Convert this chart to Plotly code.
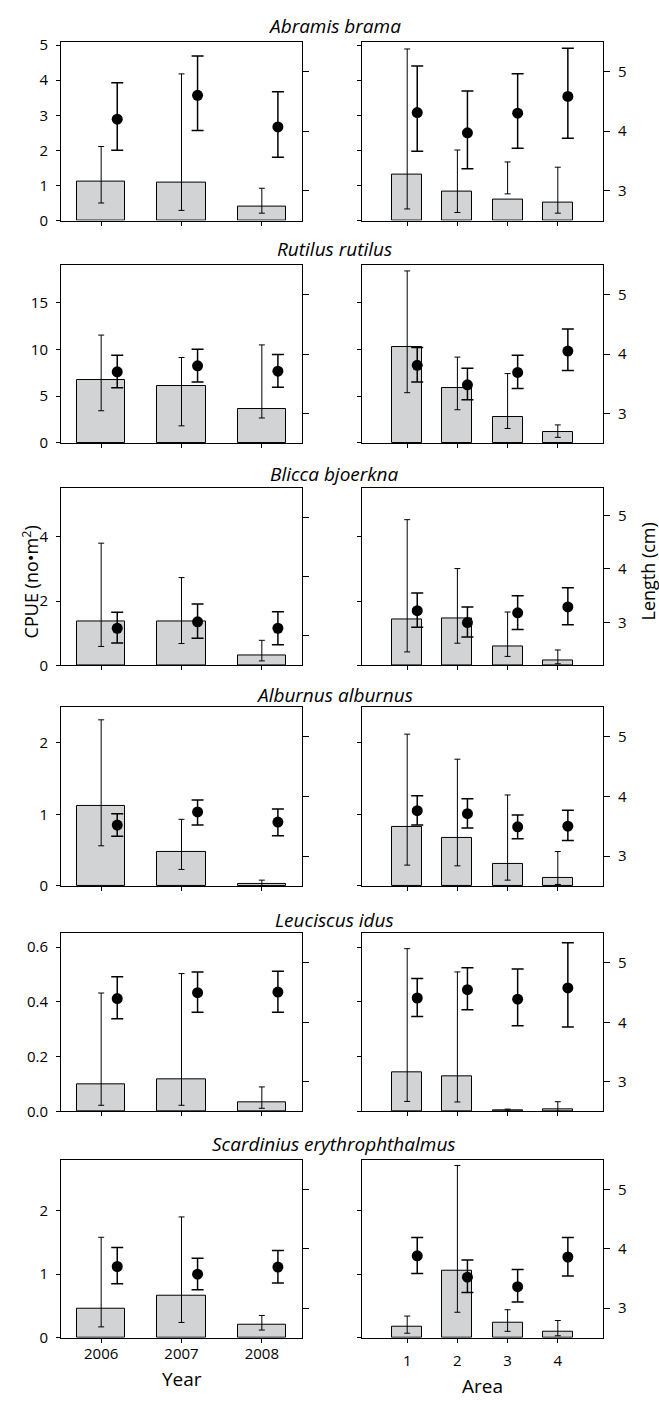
import plotly.graph_objects as go

W, H = 659, 1406

species = ["Abramis brama", "Rutilus rutilus", "Blicca bjoerkna",
           "Alburnus alburnus", "Leuciscus idus", "Scardinius erythrophthalmus"]
years = [2006, 2007, 2008]
areas = [1, 2, 3, 4]

# CPUE (no per m2) by year: mean, upper and lower limits
year_cpue = [
    [1.11, 1.08, 0.40],
    [6.71, 6.08, 3.62],
    [1.37, 1.37, 0.32],
    [1.11, 0.48, 0.03],
    [0.097, 0.115, 0.032],
    [0.45, 0.66, 0.21],
]
year_cpue_hi = [
    [2.11, 4.18, 0.92],
    [11.52, 9.13, 10.47],
    [3.80, 2.73, 0.78],
    [2.32, 0.93, 0.08],
    [0.432, 0.503, 0.089],
    [1.58, 1.90, 0.35],
]
year_cpue_lo = [
    [0.50, 0.29, 0.21],
    [3.44, 1.83, 2.67],
    [0.59, 0.68, 0.14],
    [0.56, 0.23, 0.005],
    [0.022, 0.022, 0.011],
    [0.17, 0.24, 0.12],
]
# Length (cm) by year
year_len = [
    [4.20, 4.60, 4.07],
    [3.70, 3.80, 3.71],
    [3.13, 3.24, 3.13],
    [3.52, 3.74, 3.57],
    [4.40, 4.50, 4.51],
    [3.70, 3.57, 3.69],
]
year_len_hi = [
    [4.81, 5.26, 4.66],
    [3.98, 4.08, 3.99],
    [3.40, 3.54, 3.41],
    [3.71, 3.94, 3.79],
    [4.77, 4.85, 4.86],
    [4.02, 3.84, 3.97],
]
year_len_lo = [
    [3.68, 4.01, 3.56],
    [3.43, 3.53, 3.44],
    [2.88, 2.96, 2.85],
    [3.33, 3.52, 3.34],
    [4.06, 4.17, 4.17],
    [3.41, 3.31, 3.42],
]
# CPUE by area
area_cpue = [
    [1.30, 0.83, 0.60, 0.50],
    [10.26, 5.87, 2.81, 1.12],
    [1.42, 1.47, 0.59, 0.16],
    [0.83, 0.67, 0.31, 0.11],
    [0.143, 0.129, 0.004, 0.007],
    [0.18, 1.05, 0.24, 0.09],
]
area_cpue_hi = [
    [4.89, 2.01, 1.67, 1.52],
    [18.37, 9.17, 7.41, 1.93],
    [4.53, 3.01, 1.66, 0.48],
    [2.12, 1.77, 1.27, 0.48],
    [0.594, 0.509, 0.008, 0.035],
    [0.34, 2.71, 0.44, 0.27],
]
area_cpue_lo = [
    [0.33, 0.23, 0.76, 0.21],
    [5.37, 3.55, 1.55, 0.60],
    [0.42, 0.69, 0.28, 0.05],
    [0.29, 0.28, 0.08, 0.02],
    [0.036, 0.034, 0.001, 0.0],
    [0.07, 0.40, 0.10, 0.03],
]
# Length by area
area_len = [
    [4.31, 3.97, 4.30, 4.58],
    [3.81, 3.48, 3.69, 4.05],
    [3.22, 3.00, 3.18, 3.29],
    [3.76, 3.71, 3.49, 3.50],
    [4.41, 4.55, 4.39, 4.58],
    [3.88, 3.52, 3.36, 3.86],
]
area_len_hi = [
    [5.09, 4.67, 4.96, 5.39],
    [4.11, 3.76, 3.98, 4.42],
    [3.55, 3.29, 3.50, 3.65],
    [4.01, 3.96, 3.69, 3.77],
    [4.74, 4.92, 4.90, 5.34],
    [4.19, 3.81, 3.65, 4.19],
]
area_len_lo = [
    [3.66, 3.37, 3.71, 3.88],
    [3.53, 3.23, 3.42, 3.72],
    [2.91, 2.73, 2.87, 2.96],
    [3.52, 3.47, 3.29, 3.26],
    [4.10, 4.21, 3.94, 3.92],
    [3.58, 3.26, 3.10, 3.54],
]

# axis settings per row
cpue_max = [5.1, 19, 5.5, 2.5, 0.65, 2.8]
cpue_ticks = [[0, 1, 2, 3, 4, 5], [0, 5, 10, 15], [0, 2, 4], [0, 1, 2],
              [0, 0.2, 0.4, 0.6], [0, 1, 2]]
cpue_fmt = ["", "", "", "", ".1f", ""]
len_range_year = [[2.5, 5.5]] * 6
len_range_area = [[2.5, 5.5], [2.5, 5.5], [2.2, 5.5], [2.5, 5.5], [2.5, 5.5], [2.5, 5.5]]
len_ticks = [3, 4, 5]

# layout geometry (pixels)
col_x = [(61, 302), (362, 603)]
row_y = [(35, 216), (261, 441), (487, 666), (708, 889), (937, 1117), (1166, 1346)]
title_y = [19, 245, 472, 696, 924, 1150]

FONT = "Open Sans"
BAR_FILL = "#d2d3d5"
DOT_OFFSET = 0.2
BAR_W = 0.6

fig = go.Figure()
layout = {}


def key(prefix, n):
    return prefix + ("" if n == 1 else str(n))


for r in range(6):
    for c in range(2):
        p = r * 2 + c
        xn = p + 1
        yc = 2 * p + 1
        yl = 2 * p + 2
        xid, ycid, ylid = key("x", xn), key("y", yc), key("y", yl)
        if c == 0:
            xs = years
            cp, hi, lo = year_cpue[r], year_cpue_hi[r], year_cpue_lo[r]
            ln, lhi, llo = year_len[r], year_len_hi[r], year_len_lo[r]
            xr = [years[0] - 0.5, years[-1] + 0.5]
            lrange = len_range_year[r]
            ticktext = [str(v) for v in years]
        else:
            xs = areas
            cp, hi, lo = area_cpue[r], area_cpue_hi[r], area_cpue_lo[r]
            ln, lhi, llo = area_len[r], area_len_hi[r], area_len_lo[r]
            xr = [areas[0] - 0.9, areas[-1] + 0.9]
            lrange = len_range_area[r]
            ticktext = [str(v) for v in areas]

        fig.add_trace(go.Bar(
            x=xs, y=cp, width=BAR_W, xaxis=xid, yaxis=ycid,
            marker=dict(color=BAR_FILL, line=dict(color="black", width=1)),
            error_y=dict(type="data", symmetric=False,
                         array=[h - v for h, v in zip(hi, cp)],
                         arrayminus=[v - l for v, l in zip(cp, lo)],
                         color="black", thickness=1, width=3),
            showlegend=False, hoverinfo="skip"))
        fig.add_trace(go.Scatter(
            x=[v + DOT_OFFSET for v in xs], y=ln, mode="markers",
            xaxis=xid, yaxis=ylid,
            marker=dict(color="black", size=11, line=dict(width=0)),
            error_y=dict(type="data", symmetric=False,
                         array=[h - v for h, v in zip(lhi, ln)],
                         arrayminus=[v - l for v, l in zip(ln, llo)],
                         color="black", thickness=1.5, width=6),
            showlegend=False, hoverinfo="skip"))

        x0, x1 = col_x[c]
        top, bot = row_y[r]
        ydom = [1 - bot / H, 1 - top / H]
        bottom_row = (r == 5)
        xaxis = dict(
            domain=[x0 / W, x1 / W], anchor=ycid, range=xr,
            tickvals=xs, showticklabels=bottom_row,
            ticks="outside", ticklen=4, tickwidth=1, tickcolor="black",
            showline=True, linecolor="black", linewidth=1, mirror=True,
            showgrid=False, zeroline=False,
            tickfont=dict(family=FONT, size=15, color="black"),
        )
        if bottom_row:
            xaxis["ticktext"] = ticktext
            xaxis["ticklabelstandoff"] = (-2 if c == 0 else 5)
        layout[key("xaxis", xn)] = xaxis
        yaxis_c = dict(
            domain=ydom, anchor=xid, range=[0, cpue_max[r]],
            tickvals=cpue_ticks[r], showticklabels=(c == 0),
            ticks="outside", ticklen=4, tickwidth=1, tickcolor="black",
            showline=True, linecolor="black", linewidth=1, mirror=True,
            showgrid=False, zeroline=False,
            tickfont=dict(family=FONT, size=15, color="black"),
        )
        if cpue_fmt[r]:
            yaxis_c["tickformat"] = cpue_fmt[r]
        if c == 0:
            yaxis_c["ticklabelstandoff"] = 5
        layout[key("yaxis", yc)] = yaxis_c
        yaxis_l = dict(
            overlaying=ycid, side="right", anchor=xid, range=lrange,
            tickvals=len_ticks, showticklabels=(c == 1),
            ticks="outside", ticklen=6, tickwidth=1, tickcolor="black",
            showline=True, linecolor="black", linewidth=1,
            showgrid=False, zeroline=False,
            tickfont=dict(family=FONT, size=15, color="black"),
        )
        if c == 1:
            yaxis_l["ticklabelstandoff"] = 5
        layout[key("yaxis", yl)] = yaxis_l

annotations = []
for r in range(6):
    annotations.append(dict(
        text="<i>" + species[r] + "</i>", x=334 / W, y=1 - title_y[r] / H,
        xref="paper", yref="paper", xanchor="center", yanchor="middle",
        showarrow=False, font=dict(family=FONT, size=19, color="black")))
annotations.append(dict(
    text="CPUE (no\u2022m<sup>2</sup>)", x=31 / W, y=1 - 582 / H,
    xref="paper", yref="paper", xanchor="center", yanchor="middle",
    textangle=-90, showarrow=False, font=dict(family=FONT, size=18, color="black")))
annotations.append(dict(
    text="Length (cm)", x=648 / W, y=1 - 571 / H,
    xref="paper", yref="paper", xanchor="center", yanchor="middle",
    textangle=-90, showarrow=False, font=dict(family=FONT, size=18, color="black")))
annotations.append(dict(
    text="Year", x=182 / W, y=1 - 1388 / H,
    xref="paper", yref="paper", xanchor="center", yanchor="middle",
    showarrow=False, font=dict(family=FONT, size=19, color="black")))
annotations.append(dict(
    text="Area", x=482 / W, y=1 - 1395 / H,
    xref="paper", yref="paper", xanchor="center", yanchor="middle",
    showarrow=False, font=dict(family=FONT, size=19, color="black")))

fig.update_layout(
    width=W, height=H,
    margin=dict(l=0, r=0, t=0, b=0),
    paper_bgcolor="white", plot_bgcolor="white",
    bargap=0, showlegend=False,
    annotations=annotations,
    **layout,
)

fig.write_html(
    "out.html",
    config={"displayModeBar": False},
    post_script="document.body.style.margin='0';document.body.style.overflow='hidden';",
)
